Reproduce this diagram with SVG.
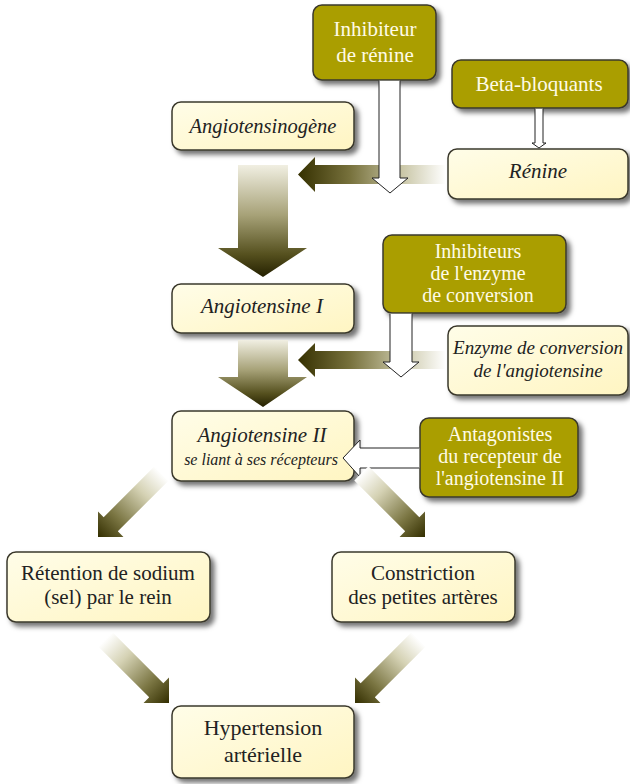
<svg xmlns="http://www.w3.org/2000/svg" width="630" height="784" viewBox="0 0 630 784">
<defs>
<filter id="sh" x="-10%" y="-10%" width="130%" height="140%">
<feDropShadow dx="4" dy="4" stdDeviation="2.5" flood-color="#000" flood-opacity="0.55"/>
</filter>
<linearGradient id="cream" x1="0" y1="0" x2="1" y2="1">
<stop offset="0" stop-color="#fffde8"/>
<stop offset="1" stop-color="#fff5c2"/>
</linearGradient>
<linearGradient id="vgrad" x1="0" y1="0" x2="0" y2="1">
<stop offset="0" stop-color="#f1efe2"/>
<stop offset="0.45" stop-color="#a6a177"/>
<stop offset="0.8" stop-color="#55501e"/>
<stop offset="1" stop-color="#242000"/>
</linearGradient>
<linearGradient id="hgrad" x1="0" y1="0" x2="1" y2="0">
<stop offset="0" stop-color="#353000"/>
<stop offset="0.35" stop-color="#77713c"/>
<stop offset="0.7" stop-color="#c9c6a6"/>
<stop offset="1" stop-color="#ffffff"/>
</linearGradient>
<linearGradient id="dgrad" x1="0" y1="0" x2="0" y2="1">
<stop offset="0" stop-color="#ffffff"/>
<stop offset="0.3" stop-color="#d5d2b4"/>
<stop offset="0.7" stop-color="#7a7542"/>
<stop offset="1" stop-color="#332e00"/>
</linearGradient>
<path id="diag" d="M-10,-90 L10,-90 L10,-18 L18,-18 L0,0 L-18,-18 L-10,-18 Z"/>
</defs>
<style>
.cr{fill:url(#cream);stroke:#3a382c;stroke-width:1.5;filter:url(#sh)}
.ol{fill:#aa9e00;stroke:#3a382c;stroke-width:1.5;filter:url(#sh)}
.t{font-size:21px;fill:#222;text-anchor:middle}
.s{font-size:20px}
.w{fill:#fffbe6}
.i{font-style:italic}
.hol{fill:#fff;stroke:#222;stroke-width:1}
</style>
<g font-family="Liberation Serif, Times New Roman, serif">
<g id="inhibiteur-renine">
<rect class="ol" x="313" y="5" width="123" height="75" rx="9"/>
<text class="t w" x="375" y="36">Inhibiteur</text>
<text class="t w" x="375" y="62">de rénine</text>
</g>
<g id="beta-bloquants">
<rect class="ol" x="452" y="60" width="176" height="48" rx="9"/>
<text class="t w" x="539" y="91">Beta-bloquants</text>
</g>
<g id="angiotensinogene">
<rect class="cr" x="172" y="102" width="182" height="48" rx="9"/>
<text class="t i" x="263" y="133" style="font-size:20.5px">Angiotensinogène</text>
</g>
<g id="renine">
<rect class="cr" x="448" y="149" width="180" height="50" rx="9"/>
<text class="t i" x="538" y="178">Rénine</text>
</g>
<g id="inhibiteurs-enzyme">
<rect class="ol" x="383" y="235" width="183" height="78" rx="9"/>
<text class="t s w" x="478" y="258">Inhibiteurs</text>
<text class="t s w" x="478" y="280">de l'enzyme</text>
<text class="t s w" x="478" y="302">de conversion</text>
</g>
<g id="angiotensine-1">
<rect class="cr" x="172" y="284" width="182" height="49" rx="9"/>
<text class="t i" x="262" y="313">Angiotensine I</text>
</g>
<g id="enzyme-conversion">
<rect class="cr" x="448" y="326" width="180" height="69" rx="9"/>
<text class="t i" x="538" y="354" style="font-size:19px">Enzyme de conversion</text>
<text class="t i" x="538" y="377" style="font-size:19px">de l'angiotensine</text>
</g>
<g id="angiotensine-2">
<rect class="cr" x="172" y="411" width="182" height="70" rx="9"/>
<text class="t i" x="262" y="442">Angiotensine II</text>
<text class="t i" x="261" y="465" style="font-size:16px">se liant à ses récepteurs</text>
</g>
<g id="antagonistes">
<rect class="ol" x="420" y="418" width="158" height="79" rx="9"/>
<text class="t s w" x="500" y="441">Antagonistes</text>
<text class="t s w" x="500" y="463">du recepteur de</text>
<text class="t s w" x="500" y="485">l'angiotensine II</text>
</g>
<g id="retention">
<rect class="cr" x="7" y="552" width="203" height="70" rx="9"/>
<text class="t" x="108" y="580">Rétention de sodium</text>
<text class="t" x="108" y="604">(sel) par le rein</text>
</g>
<g id="constriction">
<rect class="cr" x="332" y="552" width="183" height="70" rx="9"/>
<text class="t" x="423" y="580">Constriction</text>
<text class="t" x="423" y="604">des petites artères</text>
</g>
<g id="hypertension">
<rect class="cr" x="172" y="706" width="182" height="72" rx="9"/>
<text class="t" x="263" y="735" style="font-size:22px">Hypertension</text>
<text class="t" x="263" y="762" style="font-size:22px">artérielle</text>
</g>
</g>
<g id="connectors">
<path d="M238,165 L288,165 L288,248 L307,248 L263,277 L218,248 L238,248 Z" fill="url(#vgrad)"/>
<path d="M238,340 L288,340 L288,377 L307,377 L263,407 L218,377 L238,377 Z" fill="url(#vgrad)"/>
<path d="M298,174.5 L315,157 L315,165 L446,165 L446,184 L315,184 L315,192 Z" fill="url(#hgrad)"/>
<path d="M298,360 L315,343 L315,351 L446,351 L446,369 L315,369 L315,377 Z" fill="url(#hgrad)"/>
<path d="M379,80.8 L379,178 L372,178 L390,193 L408,178 L400,178 L400,80.8" class="hol"/>
<path d="M390,313.8 L390,362 L383,362 L401,377 L419,362 L412,362 L412,313.8" class="hol"/>
<path d="M535,108.8 L535,143 L532,143 L539,148 L546,143 L543,143 L543,108.8" class="hol"/>
<path d="M419.2,448 L360,448 L360,440 L343,458 L360,477 L360,468 L419.2,468" class="hol"/>
<use href="#diag" fill="url(#dgrad)" transform="translate(98,537) rotate(45)"/>
<use href="#diag" fill="url(#dgrad)" transform="translate(425,537) rotate(-45)"/>
<use href="#diag" fill="url(#dgrad)" transform="translate(169,703) rotate(-45)"/>
<use href="#diag" fill="url(#dgrad)" transform="translate(355,703) rotate(45)"/>
</g>
</svg>
